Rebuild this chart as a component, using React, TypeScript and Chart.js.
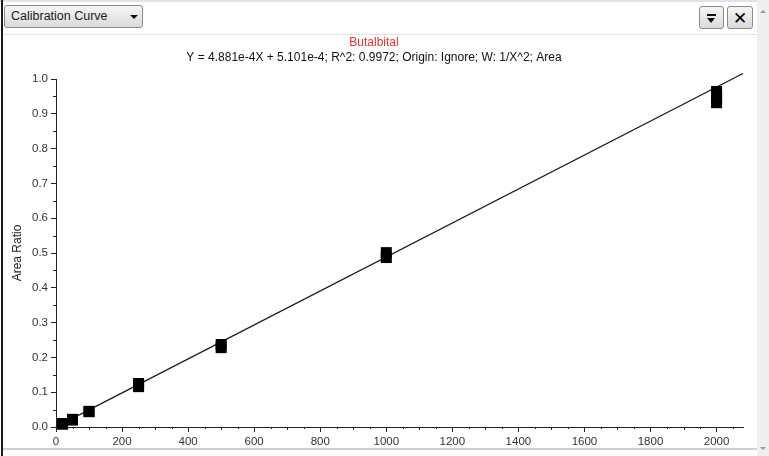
import React, { useEffect, useRef } from "react";
import { Chart, registerables } from "chart.js";

Chart.register(...registerables);

// Calibration standards (concentration) and measured area ratios (replicates)
const standardX = [20, 20, 50, 50, 100, 100, 250, 250, 500, 500, 1000, 1000, 2000, 2000, 2000];
const areaRatioY = [0.010, 0.008, 0.022, 0.020, 0.045, 0.044, 0.125, 0.116, 0.237, 0.228, 0.501, 0.487, 0.964, 0.948, 0.932];

// Fitted regression line endpoints (Y = 4.881e-4X + 5.101e-4)
const fitX = [0, 2080];
const fitY = [0.0005, 1.0158];

const titleText = "Butalbital";
const subtitleText = "Y = 4.881e-4X + 5.101e-4; R^2: 0.9972; Origin: Ignore; W: 1/X^2; Area";
const yAxisTitle = "Area Ratio";
const xMin = 0;
const xMax = 2080;
const xStep = 200;
const yMin = 0;
const yMax = 1.0;
const yStep = 0.1;

const FONT = "'Liberation Sans', Arial, sans-serif";

const minorTicksPlugin = {
  id: "minorTicks",
  afterDraw(chart: any) {
    const { ctx, scales } = chart;
    const x = scales.x;
    const y = scales.y;
    ctx.save();
    ctx.strokeStyle = "#222";
    ctx.lineWidth = 1;
    ctx.beginPath();
    for (let v = 50; v < xMax; v += 50) {
      if (v % 200 === 0) continue;
      const px = Math.round(x.getPixelForValue(v)) + 0.5;
      const len = v % 100 === 0 ? 3 : 2;
      ctx.moveTo(px, x.top);
      ctx.lineTo(px, x.top + len);
    }
    for (let i = 1; i < 20; i += 2) {
      const v = i * 0.05;
      const py = Math.round(y.getPixelForValue(v)) + 0.5;
      ctx.moveTo(y.right, py);
      ctx.lineTo(y.right - 3, py);
    }
    ctx.stroke();
    ctx.restore();
  },
};

function ChartCanvas() {
  const ref = useRef<HTMLCanvasElement | null>(null);
  useEffect(() => {
    if (!ref.current) return;
    const points = standardX.map((x, i) => ({ x, y: areaRatioY[i] }));
    const line = fitX.map((x, i) => ({ x, y: fitY[i] }));
    const chart = new Chart(ref.current, {
      type: "scatter",
      data: {
        datasets: [
          {
            label: "Standards",
            data: points,
            pointStyle: "rect",
            pointRadius: 7.8,
            pointBackgroundColor: "#000",
            pointBorderColor: "#000",
            pointBorderWidth: 0,
            showLine: false,
            clip: false as any,
            order: 0,
          },
          {
            label: "Fit",
            data: line,
            showLine: true,
            borderColor: "#1a1a1a",
            borderWidth: 1.3,
            pointRadius: 0,
            clip: false as any,
            order: 1,
          },
        ],
      },
      options: {
        responsive: false,
        animation: false,
        devicePixelRatio: 1,
        layout: { padding: { left: 0, right: 12, top: 0, bottom: 0 } },
        plugins: {
          legend: { display: false },
          tooltip: { enabled: false },
          title: {
            display: true,
            text: titleText,
            color: "#e8312f",
            font: { family: FONT, size: 12, weight: "normal" },
            padding: { top: 0.8, bottom: 0 },
          },
          subtitle: {
            display: true,
            text: subtitleText,
            color: "#111",
            font: { family: FONT, size: 12, weight: "normal" },
            padding: { top: 0, bottom: 14.4 },
          },
        },
        scales: {
          x: {
            type: "linear",
            min: xMin,
            max: xMax,
            afterBuildTicks: (s: any) => {
              s.ticks = s.ticks.filter((t: any) => Math.abs(t.value % xStep) < 1e-6);
            },
            afterFit: (s: any) => {
              s.height = 21;
            },
            ticks: {
              stepSize: xStep,
              includeBounds: false,
              color: "#333",
              font: { family: FONT, size: 11.5 },
              padding: 3,
              maxRotation: 0,
              autoSkip: false,
              callback: (v: any) => String(v),
            },
            grid: { drawOnChartArea: false, drawTicks: true, tickLength: 5, color: "#222" },
            border: { display: true, color: "#222", width: 1 },
          },
          y: {
            type: "linear",
            min: yMin,
            max: yMax,
            afterFit: (s: any) => {
              s.width = 51;
            },
            ticks: {
              stepSize: yStep,
              includeBounds: false,
              color: "#333",
              font: { family: FONT, size: 11.5 },
              padding: 3,
              callback: (v: any) => Number(v).toFixed(1),
            },
            grid: { drawOnChartArea: false, drawTicks: true, tickLength: 5, color: "#222" },
            border: { display: true, color: "#222", width: 1 },
            title: {
              display: true,
              text: yAxisTitle,
              color: "#222",
              font: { family: FONT, size: 12 },
              padding: { top: 5.8, bottom: 0 },
            },
          },
        },
      },
      plugins: [minorTicksPlugin],
    });
    return () => chart.destroy();
  }, []);
  return (
    <canvas
      ref={ref}
      width={750}
      height={413}
      style={{ position: "absolute", left: 5, top: 35, width: 750, height: 413, display: "block" }}
    />
  );
}

const btnStyle: React.CSSProperties = {
  position: "absolute",
  boxSizing: "border-box",
  border: "1px solid #8a8a8a",
  borderRadius: 3,
  background: "linear-gradient(#f6f6f6, #dadada)",
};

export default function App() {
  return (
    <div
      style={{
        position: "fixed",
        left: 0,
        top: 0,
        width: 769,
        height: 456,
        background: "#fff",
        overflow: "hidden",
        fontFamily: FONT,
      }}
    >
      {/* top strip */}
      <div style={{ position: "absolute", left: 0, top: 0, width: 757, height: 2, background: "#dfe4ea" }} />
      {/* header separator */}
      <div style={{ position: "absolute", left: 4, top: 34, width: 753, height: 1, background: "#e2e2e2" }} />
      {/* left dark border */}
      <div style={{ position: "absolute", left: 1, top: 0, width: 2, height: 456, background: "#1a1a1a" }} />
      {/* dropdown button */}
      <div style={{ ...btnStyle, left: 4, top: 5, width: 139, height: 23 }}>
        <span
          style={{
            position: "absolute",
            left: 6,
            top: 3,
            fontSize: 12.5,
            color: "#222",
            whiteSpace: "nowrap",
          }}
        >
          Calibration Curve
        </span>
        <div
          style={{
            position: "absolute",
            left: 125,
            top: 9,
            width: 0,
            height: 0,
            borderLeft: "4px solid transparent",
            borderRight: "4px solid transparent",
            borderTop: "4px solid #111",
          }}
        />
      </div>
      {/* filter button */}
      <div style={{ ...btnStyle, left: 699, top: 6, width: 25, height: 23 }}>
        <div style={{ position: "absolute", left: 7, top: 7, width: 9, height: 2, background: "#111" }} />
        <div
          style={{
            position: "absolute",
            left: 7,
            top: 11,
            width: 0,
            height: 0,
            borderLeft: "4.5px solid transparent",
            borderRight: "4.5px solid transparent",
            borderTop: "5px solid #111",
          }}
        />
      </div>
      {/* close button */}
      <div style={{ ...btnStyle, left: 727, top: 6, width: 26, height: 23 }}>
        <span
          style={{
            position: "absolute",
            left: 0,
            top: 1,
            width: 24,
            textAlign: "center",
            fontSize: 17,
            fontWeight: "bold",
            color: "#000",
            fontFamily: "'DejaVu Sans', sans-serif",
          }}
        >
          ✕
        </span>
      </div>
      {/* scrollbar */}
      <div style={{ position: "absolute", left: 757, top: 0, width: 12, height: 456, background: "#f0efee" }}>
        <div
          style={{
            position: "absolute",
            left: 3,
            top: 10,
            width: 0,
            height: 0,
            borderLeft: "3px solid transparent",
            borderRight: "3px solid transparent",
            borderBottom: "3px solid #999",
          }}
        />
        <div
          style={{
            position: "absolute",
            left: 3,
            top: 447,
            width: 0,
            height: 0,
            borderLeft: "3px solid transparent",
            borderRight: "3px solid transparent",
            borderTop: "3px solid #999",
          }}
        />
      </div>
      <ChartCanvas />
      {/* bottom border */}
      <div style={{ position: "absolute", left: 3, top: 448, width: 754, height: 2, background: "#cfcfcf" }} />
    </div>
  );
}
